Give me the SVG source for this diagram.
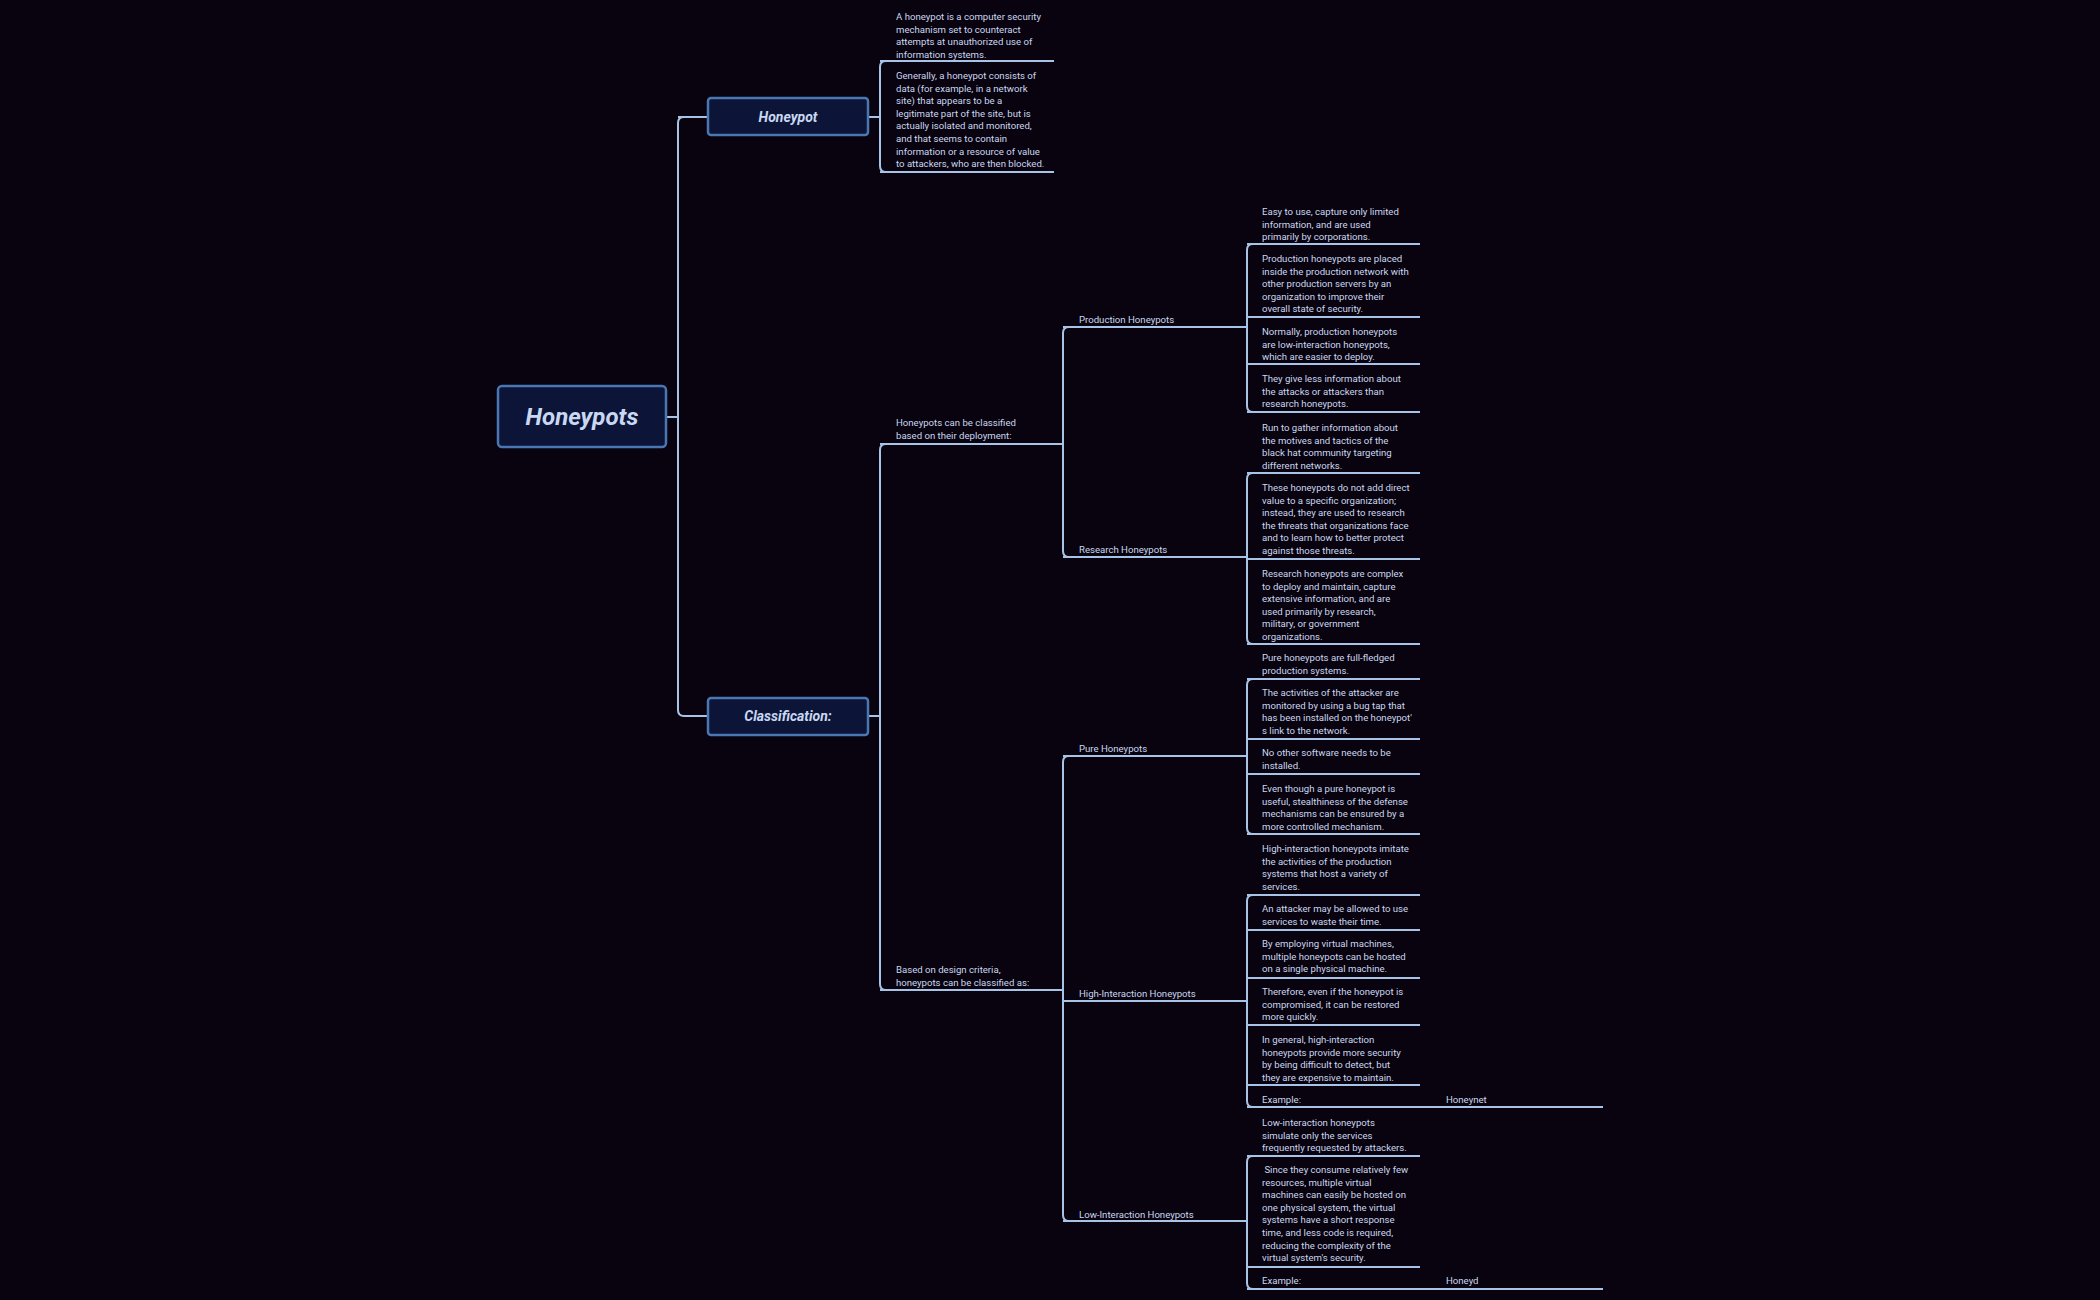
<svg xmlns="http://www.w3.org/2000/svg" width="2100" height="1300" viewBox="0 0 2100 1300">
<style>
.bg{fill:#08030f}
.c{fill:none;stroke:#a9c3e6;stroke-width:2}
.t{font-family:Roboto,"Liberation Sans",sans-serif;font-size:9.6px;fill:#cbd7ee}
.nb{fill:#0c1538;stroke:#4a76b2;stroke-width:2.5}
.nt{font-family:Roboto,"Liberation Sans",sans-serif;font-weight:bold;font-style:italic;fill:#c9d8f2;text-anchor:middle}
</style>
<rect class="bg" width="2100" height="1300"/>
<g id="connectors">
<path class="c" d="M666,417H678 M684,117Q678,117 678,123V710Q678,716 684,716H708 M678,117H708"/>
<path class="c" d="M868,117H880 M886,61Q880,61 880,67V166Q880,172 886,172 M880,61H1054 M880,172H1054"/>
<path class="c" d="M868,716H880 M886,444Q880,444 880,450V984Q880,990 886,990 M880,444H1063 M880,990H1063"/>
<path class="c" d="M1069,327Q1063,327 1063,333V551Q1063,557 1069,557 M1063,327H1247 M1063,557H1247"/>
<path class="c" d="M1069,756Q1063,756 1063,762V1215Q1063,1221 1069,1221 M1063,756H1247 M1063,1001H1247 M1063,1221H1247"/>
<path class="c" d="M1253,244Q1247,244 1247,250V406Q1247,412 1253,412 M1247,244H1420 M1247,317H1420 M1247,364H1420 M1247,412H1420"/>
<path class="c" d="M1253,473Q1247,473 1247,479V638Q1247,644 1253,644 M1247,473H1420 M1247,559H1420 M1247,644H1420"/>
<path class="c" d="M1253,679Q1247,679 1247,685V828Q1247,834 1253,834 M1247,679H1420 M1247,739H1420 M1247,774H1420 M1247,834H1420"/>
<path class="c" d="M1253,895Q1247,895 1247,901V1101Q1247,1107 1253,1107 M1247,895H1420 M1247,930H1420 M1247,978H1420 M1247,1025H1420 M1247,1085H1420 M1247,1107H1603"/>
<path class="c" d="M1253,1156Q1247,1156 1247,1162V1283Q1247,1289 1253,1289 M1247,1156H1420 M1247,1267H1420 M1247,1289H1603"/>
</g>
<g id="root"><rect class="nb" x="498" y="386" width="168" height="61" rx="4" stroke-width="4"/><text class="nt" x="582" y="425" font-size="24">Honeypots</text></g>
<g id="honeypot"><rect class="nb" x="708" y="98" width="160" height="37" rx="3"/><text class="nt" x="788" y="122" font-size="14">Honeypot</text></g>
<g id="classification"><rect class="nb" x="708" y="698" width="160" height="37" rx="3"/><text class="nt" x="788" y="721" font-size="14">Classification:</text></g>
<g id="hp-leaves">
<text class="t" x="896" y="20"><tspan x="896" y="20">A honeypot is a computer security</tspan><tspan x="896" y="32.6">mechanism set to counteract</tspan><tspan x="896" y="45.2">attempts at unauthorized use of</tspan><tspan x="896" y="57.8">information systems.</tspan></text>
<text class="t"><tspan x="896" y="79">Generally, a honeypot consists of</tspan><tspan x="896" y="91.6">data (for example, in a network</tspan><tspan x="896" y="104.2">site) that appears to be a</tspan><tspan x="896" y="116.8">legitimate part of the site, but is</tspan><tspan x="896" y="129.4">actually isolated and monitored,</tspan><tspan x="896" y="142">and that seems to contain</tspan><tspan x="896" y="154.6">information or a resource of value</tspan><tspan x="896" y="167.2">to attackers, who are then blocked.</tspan></text>
</g>
<g id="deployment"><text class="t"><tspan x="896" y="426">Honeypots can be classified</tspan><tspan x="896" y="439">based on their deployment:</tspan></text></g>
<g id="design"><text class="t"><tspan x="896" y="973">Based on design criteria,</tspan><tspan x="896" y="986">honeypots can be classified as:</tspan></text></g>
<g id="production"><text class="t" x="1079" y="323">Production Honeypots</text></g>
<g id="research"><text class="t" x="1079" y="553">Research Honeypots</text></g>
<g id="pure"><text class="t" x="1079" y="752">Pure Honeypots</text></g>
<g id="high"><text class="t" x="1079" y="997">High-Interaction Honeypots</text></g>
<g id="low"><text class="t" x="1079" y="1218">Low-Interaction Honeypots</text></g>
<g id="prod-leaves">
<text class="t"><tspan x="1262" y="215">Easy to use, capture only limited</tspan><tspan x="1262" y="227.6">information, and are used</tspan><tspan x="1262" y="240.2">primarily by corporations.</tspan></text>
<text class="t"><tspan x="1262" y="262">Production honeypots are placed</tspan><tspan x="1262" y="274.6">inside the production network with</tspan><tspan x="1262" y="287.2">other production servers by an</tspan><tspan x="1262" y="299.8">organization to improve their</tspan><tspan x="1262" y="312.4">overall state of security.</tspan></text>
<text class="t"><tspan x="1262" y="335">Normally, production honeypots</tspan><tspan x="1262" y="347.6">are low-interaction honeypots,</tspan><tspan x="1262" y="360.2">which are easier to deploy.</tspan></text>
<text class="t"><tspan x="1262" y="382">They give less information about</tspan><tspan x="1262" y="394.6">the attacks or attackers than</tspan><tspan x="1262" y="407.2">research honeypots.</tspan></text>
</g>
<g id="res-leaves">
<text class="t"><tspan x="1262" y="431">Run to gather information about</tspan><tspan x="1262" y="443.6">the motives and tactics of the</tspan><tspan x="1262" y="456.2">black hat community targeting</tspan><tspan x="1262" y="468.8">different networks.</tspan></text>
<text class="t"><tspan x="1262" y="491">These honeypots do not add direct</tspan><tspan x="1262" y="503.6">value to a specific organization;</tspan><tspan x="1262" y="516.2">instead, they are used to research</tspan><tspan x="1262" y="528.8">the threats that organizations face</tspan><tspan x="1262" y="541.4">and to learn how to better protect</tspan><tspan x="1262" y="554">against those threats.</tspan></text>
<text class="t"><tspan x="1262" y="577">Research honeypots are complex</tspan><tspan x="1262" y="589.6">to deploy and maintain, capture</tspan><tspan x="1262" y="602.2">extensive information, and are</tspan><tspan x="1262" y="614.8">used primarily by research,</tspan><tspan x="1262" y="627.4">military, or government</tspan><tspan x="1262" y="640">organizations.</tspan></text>
</g>
<g id="pure-leaves">
<text class="t"><tspan x="1262" y="661">Pure honeypots are full-fledged</tspan><tspan x="1262" y="673.6">production systems.</tspan></text>
<text class="t"><tspan x="1262" y="696">The activities of the attacker are</tspan><tspan x="1262" y="708.6">monitored by using a bug tap that</tspan><tspan x="1262" y="721.2">has been installed on the honeypot'</tspan><tspan x="1262" y="733.8">s link to the network.</tspan></text>
<text class="t"><tspan x="1262" y="756">No other software needs to be</tspan><tspan x="1262" y="768.6">installed.</tspan></text>
<text class="t"><tspan x="1262" y="792">Even though a pure honeypot is</tspan><tspan x="1262" y="804.6">useful, stealthiness of the defense</tspan><tspan x="1262" y="817.2">mechanisms can be ensured by a</tspan><tspan x="1262" y="829.8">more controlled mechanism.</tspan></text>
</g>
<g id="high-leaves">
<text class="t"><tspan x="1262" y="852">High-interaction honeypots imitate</tspan><tspan x="1262" y="864.6">the activities of the production</tspan><tspan x="1262" y="877.2">systems that host a variety of</tspan><tspan x="1262" y="889.8">services.</tspan></text>
<text class="t"><tspan x="1262" y="912">An attacker may be allowed to use</tspan><tspan x="1262" y="924.6">services to waste their time.</tspan></text>
<text class="t"><tspan x="1262" y="947">By employing virtual machines,</tspan><tspan x="1262" y="959.6">multiple honeypots can be hosted</tspan><tspan x="1262" y="972.2">on a single physical machine.</tspan></text>
<text class="t"><tspan x="1262" y="995">Therefore, even if the honeypot is</tspan><tspan x="1262" y="1007.6">compromised, it can be restored</tspan><tspan x="1262" y="1020.2">more quickly.</tspan></text>
<text class="t"><tspan x="1262" y="1043">In general, high-interaction</tspan><tspan x="1262" y="1055.6">honeypots provide more security</tspan><tspan x="1262" y="1068.2">by being difficult to detect, but</tspan><tspan x="1262" y="1080.8">they are expensive to maintain.</tspan></text>
<text class="t" x="1262" y="1103">Example:</text>
<text class="t" x="1446" y="1103">Honeynet</text>
</g>
<g id="low-leaves">
<text class="t"><tspan x="1262" y="1126">Low-interaction honeypots</tspan><tspan x="1262" y="1138.6">simulate only the services</tspan><tspan x="1262" y="1151.2">frequently requested by attackers.</tspan></text>
<text class="t" xml:space="preserve"><tspan x="1262" y="1173"> Since they consume relatively few</tspan><tspan x="1262" y="1185.6">resources, multiple virtual</tspan><tspan x="1262" y="1198.2">machines can easily be hosted on</tspan><tspan x="1262" y="1210.8">one physical system, the virtual</tspan><tspan x="1262" y="1223.4">systems have a short response</tspan><tspan x="1262" y="1236">time, and less code is required,</tspan><tspan x="1262" y="1248.6">reducing the complexity of the</tspan><tspan x="1262" y="1261.2">virtual system's security.</tspan></text>
<text class="t" x="1262" y="1284">Example:</text>
<text class="t" x="1446" y="1284">Honeyd</text>
</g>
</svg>
